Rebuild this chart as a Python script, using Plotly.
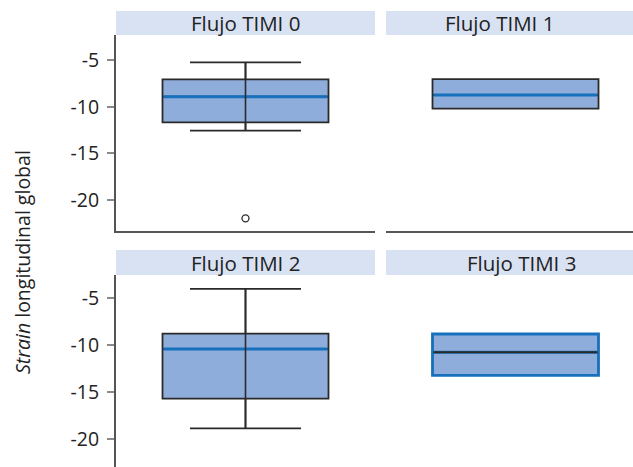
import plotly.graph_objects as go

# ---- data ----
panels = ["Flujo TIMI 0", "Flujo TIMI 1", "Flujo TIMI 2", "Flujo TIMI 3"]
lowerfence = [-12.57, -10.2, -18.83, -13.2]
q1 = [-11.68, -10.2, -15.68, -13.2]
median = [-8.93, -8.75, -10.39, -10.74]
q3 = [-7.07, -7.04, -8.76, -8.8]
upperfence = [-5.25, -7.04, -4.0, -8.8]
outliers = [[-21.96], [], [], []]
has_whisker = [True, False, True, False]
tick_vals = [-5, -10, -15, -20]
tick_text = ["-5", "-10", "-15", "-20"]

# ---- styles ----
W, H = 633, 467
FONT = "Open Sans"
BOX_FILL = "rgb(143,173,219)"
DARK = "#2a2a2a"
BLUE = "rgb(22,112,188)"
STRIP = "rgb(217,226,243)"
AXIS = "#555555"
TEXT = "#222222"

box_w = 166 / 259
cap_ratio = 111 / 166

def px(x):
    return x / W

def py(y):
    return 1 - y / H

# panel geometry (pixels)
col_x = [(116, 375), (386, 633)]
row_y = [(35, 231), (275, 467)]
strip_y = [(11, 35), (250, 275)]
yranges = [[-23.32, -2.32], [-22.95, -2.52]]
xranges = [[-0.5, 0.5], [-0.5, -0.5 + 247 / 259]]
title_cx = [245, 499, 245, 521.7]

fig = go.Figure()
layout = dict(width=W, height=H, margin=dict(l=0, r=0, t=0, b=0),
              paper_bgcolor="white", plot_bgcolor="white", showlegend=False,
              shapes=[], annotations=[])

for i, name in enumerate(panels):
    r, c = divmod(i, 2)
    k = i + 1
    xa = "x" if k == 1 else f"x{k}"
    ya = "y" if k == 1 else f"y{k}"
    box_line = BLUE if i == 3 else DARK
    med_col = DARK if i == 3 else BLUE
    lw = 2.8 if i == 3 else 1.8
    fig.add_trace(go.Box(
        x=[0], q1=[q1[i]], median=[median[i]], q3=[q3[i]],
        lowerfence=[lowerfence[i]], upperfence=[upperfence[i]],
        width=box_w, whiskerwidth=cap_ratio,
        fillcolor=BOX_FILL, line=dict(color=box_line, width=lw),
        boxpoints=False, xaxis=xa, yaxis=ya, hoverinfo="skip"))
    fig.add_trace(go.Scatter(
        x=[-box_w / 2 + 0.004, box_w / 2 - 0.004], y=[median[i], median[i]],
        mode="lines", line=dict(color=med_col, width=3 if i != 3 else 2),
        xaxis=xa, yaxis=ya, hoverinfo="skip"))
    if has_whisker[i]:
        fig.add_trace(go.Scatter(
            x=[0, 0], y=[lowerfence[i], upperfence[i]], mode="lines",
            line=dict(color=DARK, width=1.6), xaxis=xa, yaxis=ya, hoverinfo="skip"))
    if outliers[i]:
        fig.add_trace(go.Scatter(
            x=[0] * len(outliers[i]), y=outliers[i], mode="markers",
            marker=dict(symbol="circle-open", size=7, color=DARK, line=dict(width=1.3)),
            xaxis=xa, yaxis=ya, hoverinfo="skip"))

    xd = [px(col_x[c][0]), px(col_x[c][1])]
    yd = [py(row_y[r][1]), py(row_y[r][0])]
    xkey = "xaxis" if k == 1 else f"xaxis{k}"
    ykey = "yaxis" if k == 1 else f"yaxis{k}"
    layout[xkey] = dict(domain=xd, range=xranges[c], anchor=ya,
                        showgrid=False, zeroline=False, showticklabels=False,
                        ticks="", showline=(r == 0), linecolor=AXIS, linewidth=2,
                        fixedrange=True)
    layout[ykey] = dict(domain=yd, range=yranges[r], anchor=xa,
                        showgrid=False, zeroline=False,
                        tickvals=tick_vals, ticktext=tick_text,
                        showticklabels=(c == 0), ticks="outside" if c == 0 else "",
                        ticklen=7, tickwidth=1.5, tickcolor="#8a8a8a",
                        showline=(c == 0), linecolor=AXIS, linewidth=2,
                        tickfont=dict(family=FONT, size=19.5, color=TEXT),
                        ticklabelstandoff=4, fixedrange=True)
    # strip header
    layout["shapes"].append(dict(type="rect", xref="paper", yref="paper",
                                 x0=px(col_x[c][0]), x1=px(col_x[c][1]),
                                 y0=py(strip_y[r][1]), y1=py(strip_y[r][0]),
                                 fillcolor=STRIP, line=dict(width=0), layer="below"))
    layout["annotations"].append(dict(text=name, xref="paper", yref="paper",
                                      x=px(title_cx[i]), y=py((strip_y[r][0] + strip_y[r][1]) / 2),
                                      xanchor="center", yanchor="middle", showarrow=False,
                                      font=dict(family=FONT, size=20.5, color=TEXT)))

layout["annotations"].append(dict(text="<i>Strain</i> longitudinal global",
                                  xref="paper", yref="paper", x=px(22), y=py(262),
                                  xanchor="center", yanchor="middle", textangle=-90,
                                  showarrow=False,
                                  font=dict(family=FONT, size=19.5, color=TEXT)))

fig.update_layout(**layout)
fig.write_html("out.html", config={"displayModeBar": False})
